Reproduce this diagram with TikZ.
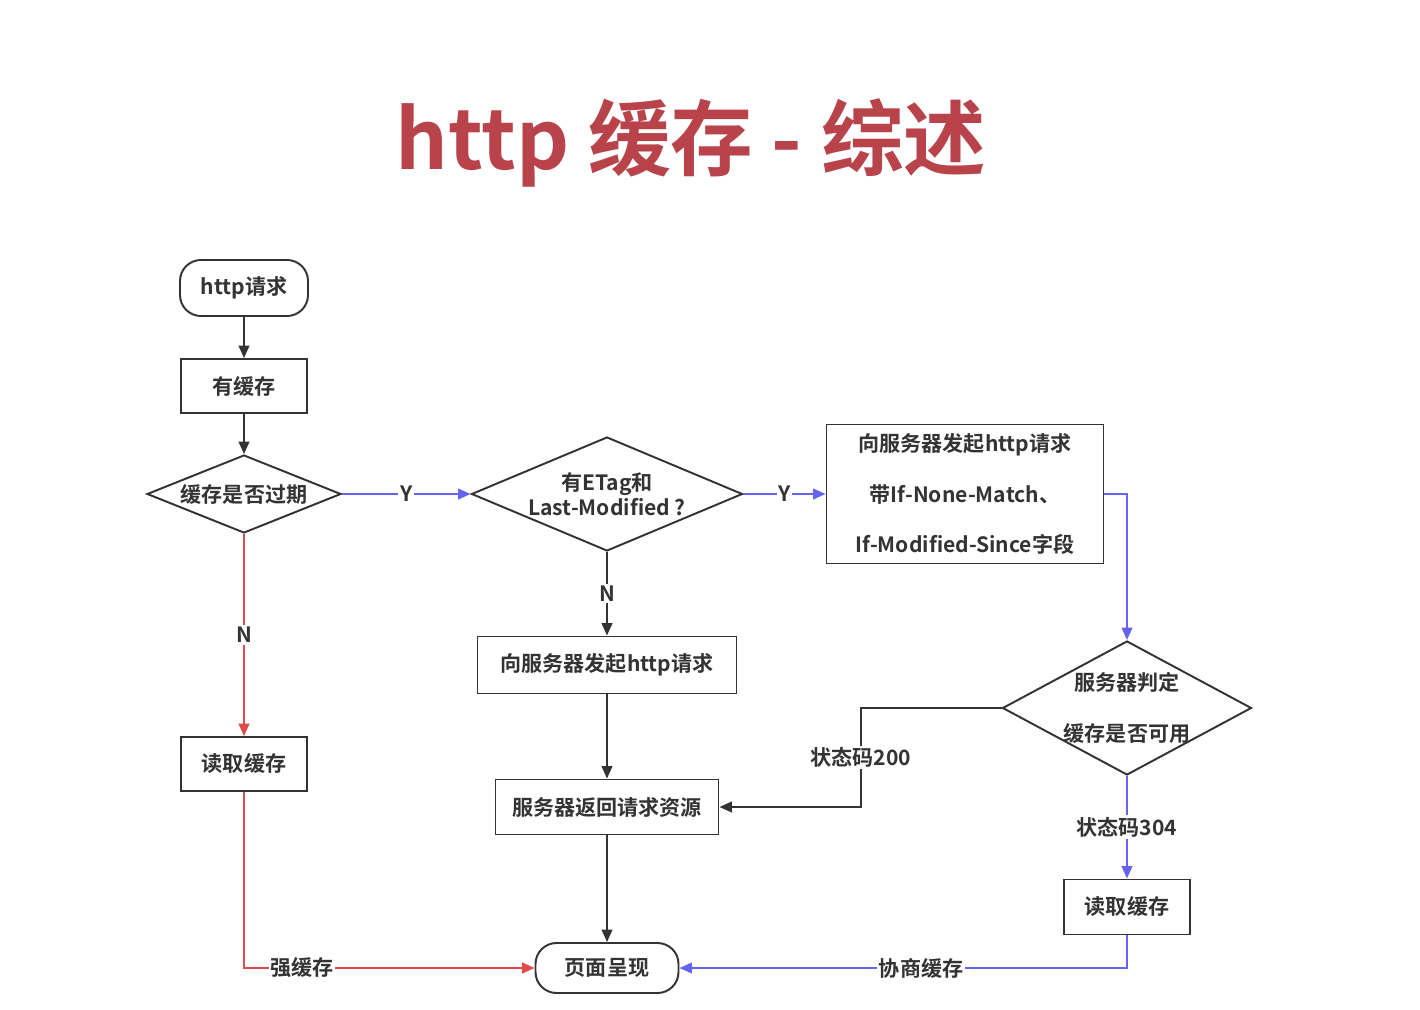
\documentclass[tikz,border=0pt]{standalone}
\usepackage{fontspec}
\setmainfont{Noto Sans CJK SC}[BoldFont={Noto Sans CJK SC Bold}]
\usetikzlibrary{arrows.meta,positioning,shapes.geometric}
\definecolor{titlered}{HTML}{B8434B}
\definecolor{flowblue}{HTML}{6464EE}
\definecolor{flowred}{HTML}{DD4B4B}
\definecolor{flowgray}{HTML}{333333}

\begin{document}
\begin{tikzpicture}[x=0.02cm, y=-0.02cm,
  every node/.style={font=\fontsize{12pt}{14pt}\selectfont\bfseries, text=flowgray},
  procbox/.style={draw=flowgray, line width=1.1pt, rectangle, inner sep=0pt, align=center},
  termbox/.style={procbox, rounded corners=0.42cm},
  decision/.style={procbox, diamond},
  flow/.style={line width=1.1pt, draw=flowgray, -{Triangle[length=7pt,width=6pt]}},
  lbl/.style={fill=white, inner sep=1pt}
]
  \def\px{0.02cm}   % one pixel of the layout grid
  \useasboundingbox (0,0) rectangle (1420,1010);

  % title
  \node[font=\fontsize{47pt}{52pt}\selectfont\bfseries, text=titlered] (title) at (691,143) {http 缓存 - 综述};

  % left column
  \node[termbox, minimum width=128*\px, minimum height=56*\px] (start) at (244,288) {http请求};
  \node[procbox, minimum width=126*\px, minimum height=54*\px] (hascache) at (244,386) {有缓存};
  \node[decision, minimum width=194*\px, minimum height=78*\px, aspect=2.49] (expired) at (244,494) {缓存是否过期};
  \node[procbox, minimum width=126*\px, minimum height=54*\px] (readL) at (244,764) {读取缓存};

  % middle column
  \node[decision, minimum width=271*\px, minimum height=114*\px, aspect=2.38] (etag) at (607,494) {有ETag和\\Last-Modified ?};
  \node[procbox, minimum width=259*\px, minimum height=57*\px] (request) at (607,665) {向服务器发起http请求};
  \node[procbox, minimum width=223*\px, minimum height=55*\px] (resource) at (607,807) {服务器返回请求资源};
  \node[termbox, minimum width=143*\px, minimum height=50*\px] (page) at (607,968) {页面呈现};

  % right column
  \node[procbox, minimum width=277*\px, minimum height=139*\px, font=\fontsize{12pt}{29pt}\selectfont\bfseries] (condreq) at (965,494)
    {向服务器发起http请求\\带If-None-Match、\\If-Modified-Since字段};
  \node[decision, minimum width=249*\px, minimum height=134*\px, aspect=1.86, inner sep=-1pt, font=\fontsize{12pt}{29pt}\selectfont\bfseries] (judge) at (1127,708)
    {服务器判定\\缓存是否可用};
  \node[procbox, minimum width=126*\px, minimum height=55*\px] (readR) at (1127,907) {读取缓存};
  \coordinate (c200) at (861,708);

  % connectors
  \draw[flow] (start) -- (hascache);
  \draw[flow] (hascache) -- (expired);
  \draw[flow, draw=flowblue, -{Triangle[length=7pt,width=6pt,fill=flowblue]}] (expired.east) -- node[lbl]{Y} (etag.west);
  \draw[flow, draw=flowblue, -{Triangle[length=7pt,width=6pt,fill=flowblue]}] (etag.east) -- node[lbl]{Y} (condreq.west);
  \draw[flow] (etag.south) -- node[lbl]{N} (request.north);
  \draw[flow, draw=flowred, -{Triangle[length=7pt,width=6pt,fill=flowred]}] (expired.south) -- node[lbl]{N} (readL.north);
  \draw[flow, draw=flowblue, -{Triangle[length=7pt,width=6pt,fill=flowblue]}] (condreq.east) -| (judge.north);
  \draw[flow] (judge.west) -- (c200) |- node[lbl, pos=0.25]{状态码200} (resource.east);
  \draw[flow, draw=flowblue, -{Triangle[length=7pt,width=6pt,fill=flowblue]}] (judge.south) -- node[lbl]{状态码304} (readR.north);
  \draw[flow] (request) -- (resource);
  \draw[flow] (resource) -- (page);
  \draw[flow, draw=flowred, -{Triangle[length=7pt,width=6pt,fill=flowred]}] (readL.south) |- node[lbl, pos=0.6]{强缓存} (page.west);
  \draw[flow, draw=flowblue, -{Triangle[length=7pt,width=6pt,fill=flowblue]}] (readR.south) |- node[lbl, pos=0.73]{协商缓存} (page.east);
\end{tikzpicture}
\end{document}
